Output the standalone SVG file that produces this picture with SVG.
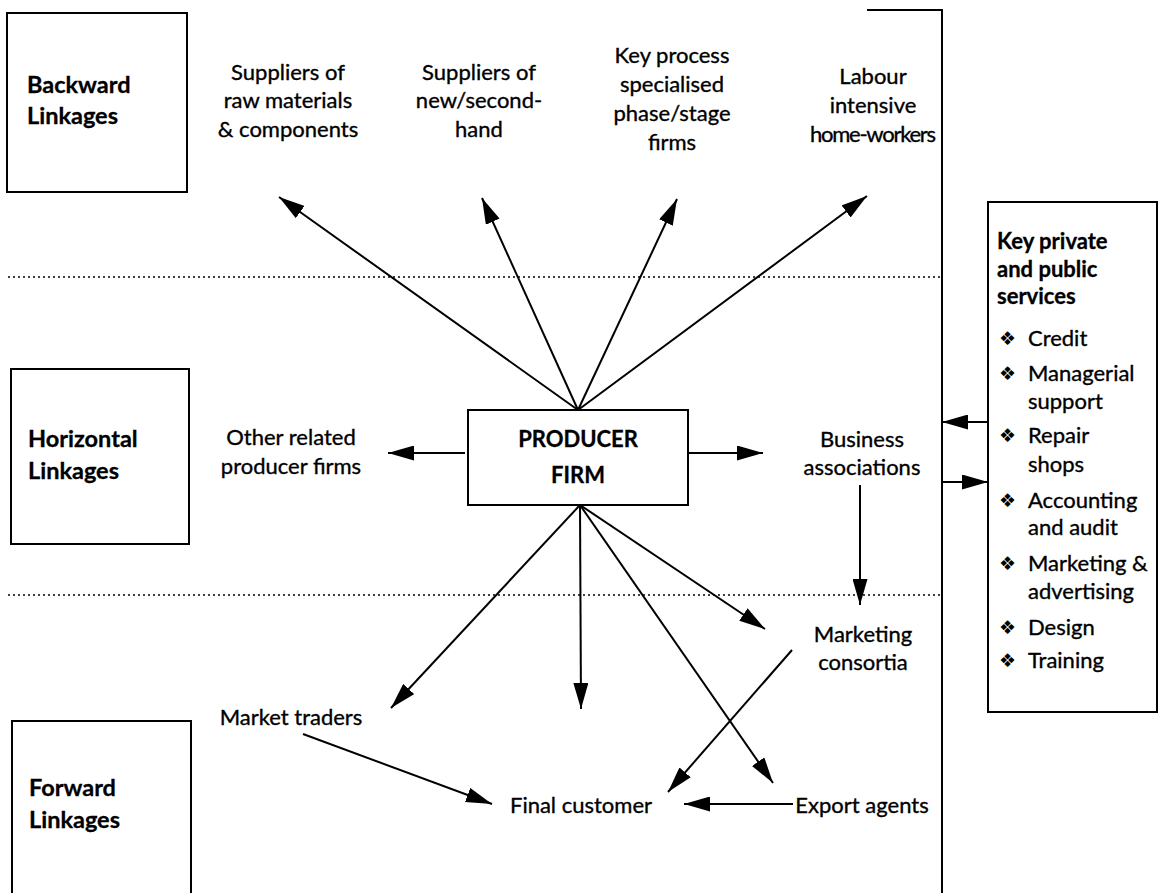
<svg xmlns="http://www.w3.org/2000/svg" width="1164" height="893" viewBox="0 0 1164 893">
<defs>
<marker id="ah" markerUnits="userSpaceOnUse" markerWidth="26" markerHeight="15" refX="26" refY="7.5" orient="auto">
<path d="M0,0 L26,7.5 L0,15 z" fill="#000"/>
</marker>
<style>
text{font-family:Lato,"Liberation Sans",Arial,sans-serif;font-size:22px;fill:#000;stroke:#000;stroke-width:0.35}
.b{font-weight:bold;stroke-width:0.3}
.L{font-size:23.5px}
.c{text-anchor:middle}
.box{fill:none;stroke:#000;stroke-width:2}
.dot{fill:none;stroke:#000;stroke-width:1.5;stroke-dasharray:2 3}
.ln{fill:none;stroke:#000;stroke-width:2}
.ar{fill:none;stroke:#000;stroke-width:2;marker-end:url(#ah)}
.bul{font-family:"DejaVu Sans",sans-serif;font-size:19px;stroke-width:0}
</style>
</defs>
<rect width="1164" height="893" fill="#fff"/>

<g id="frame">
<line class="dot" x1="8" y1="277" x2="942" y2="277"/>
<line class="dot" x1="8" y1="595" x2="942" y2="595"/>
<path class="ln" d="M867,10 H942 V893"/>
</g>

<g id="backward">
<rect class="box" x="7" y="13" width="180" height="179"/>
<text class="b L" x="27" y="93">Backward</text>
<text class="b L" x="27" y="124">Linkages</text>
</g>
<g id="horizontal">
<rect class="box" x="11" y="369" width="178" height="175"/>
<text class="b L" x="28" y="447">Horizontal</text>
<text class="b L" x="28" y="479">Linkages</text>
</g>
<g id="forward">
<path class="box" d="M12,895 V721 H191 V895"/>
<text class="b L" x="29" y="796">Forward</text>
<text class="b L" x="29" y="828">Linkages</text>
</g>

<g id="raw-materials">
<text class="c" x="288" y="80">Suppliers of</text>
<text class="c" x="288" y="108">raw materials</text>
<text class="c" x="288" y="137">&amp; components</text>
</g>
<g id="second-hand">
<text class="c" x="479" y="80">Suppliers of</text>
<text class="c" x="479" y="108">new/second-</text>
<text class="c" x="479" y="137">hand</text>
</g>
<g id="key-process">
<text class="c" x="672" y="63">Key process</text>
<text class="c" x="672" y="92">specialised</text>
<text class="c" x="672" y="121">phase/stage</text>
<text class="c" x="672" y="150">firms</text>
</g>
<g id="home-workers">
<text class="c" x="873" y="84">Labour</text>
<text class="c" x="873" y="113">intensive</text>
<text class="c" x="873" y="142" textLength="126" lengthAdjust="spacing">home-workers</text>
</g>

<g id="producer-firm">
<rect class="box" x="468" y="410" width="220" height="95"/>
<text class="b c" x="578" y="447">PRODUCER</text>
<text class="b c" x="578" y="483">FIRM</text>
</g>
<g id="other-related">
<text class="c" x="291" y="445">Other related</text>
<text class="c" x="291" y="474">producer firms</text>
</g>
<g id="business-associations">
<text class="c" x="862" y="447">Business</text>
<text class="c" x="862" y="475">associations</text>
</g>
<g id="marketing-consortia">
<text class="c" x="863" y="642">Marketing</text>
<text class="c" x="863" y="670">consortia</text>
</g>
<g id="market-traders">
<text class="c" x="291" y="725">Market traders</text>
</g>
<g id="final-customer">
<text class="c" x="581" y="813">Final customer</text>
</g>
<g id="export-agents">
<text class="c" x="862" y="813">Export agents</text>
</g>

<g id="services">
<rect class="box" x="988" y="202" width="169" height="510"/>
<text class="b" x="997" y="249">Key private</text>
<text class="b" x="997" y="277">and public</text>
<text class="b" x="997" y="304">services</text>
<text class="bul" x="999" y="345">❖</text><text x="1028" y="346">Credit</text>
<text class="bul" x="999" y="380">❖</text><text x="1028" y="381">Managerial</text>
<text x="1028" y="409">support</text>
<text class="bul" x="999" y="442">❖</text><text x="1028" y="443">Repair</text>
<text x="1028" y="472">shops</text>
<text class="bul" x="999" y="507">❖</text><text x="1028" y="508">Accounting</text>
<text x="1028" y="535">and audit</text>
<text class="bul" x="999" y="570">❖</text><text x="1028" y="571">Marketing &amp;</text>
<text x="1028" y="599">advertising</text>
<text class="bul" x="999" y="634">❖</text><text x="1028" y="635">Design</text>
<text class="bul" x="999" y="667">❖</text><text x="1028" y="668">Training</text>
</g>

<g id="connectors">
<line class="ar" x1="578" y1="410" x2="279" y2="197"/>
<line class="ar" x1="578" y1="410" x2="482" y2="198"/>
<line class="ar" x1="578" y1="410" x2="677" y2="199"/>
<line class="ar" x1="578" y1="410" x2="867" y2="196"/>
<line class="ar" x1="465" y1="453" x2="388" y2="453"/>
<line class="ar" x1="688" y1="453" x2="763" y2="453"/>
<line class="ar" x1="580" y1="505" x2="391" y2="708"/>
<line class="ar" x1="580" y1="505" x2="581" y2="709"/>
<line class="ar" x1="580" y1="505" x2="773" y2="783"/>
<line class="ar" x1="580" y1="505" x2="765" y2="629"/>
<line class="ar" x1="860" y1="485" x2="860" y2="605"/>
<line class="ar" x1="792" y1="650" x2="668" y2="792"/>
<line class="ar" x1="303" y1="734" x2="492" y2="804"/>
<line class="ar" x1="793" y1="804" x2="684" y2="804"/>
<line class="ar" x1="988" y1="422" x2="942" y2="422"/>
<line class="ar" x1="942" y1="482" x2="988" y2="482"/>
</g>
</svg>
